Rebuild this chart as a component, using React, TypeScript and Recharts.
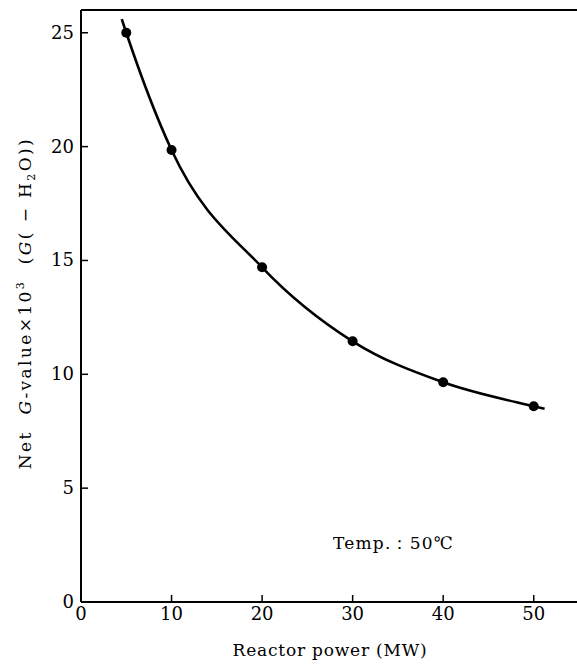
import { ComposedChart, Line, Scatter, XAxis, YAxis, Label, Customized, ReferenceLine } from "recharts"

const powerMW = [5, 10, 20, 30, 40, 50]
const gValue = [25.0, 19.85, 14.7, 11.45, 9.65, 8.6]

// hand-drawn fit curve: measured points plus the two ends as seen in the figure
const curveX = [4.5, 5, 10, 20, 30, 40, 50, 51.2]
const curveY = [25.6, 25.0, 19.85, 14.7, 11.45, 9.65, 8.6, 8.49]

const xTicks = [0, 10, 20, 30, 40, 50]
const yTicks = [0, 5, 10, 15, 20, 25]

const points = powerMW.map((x, i) => ({ x, y: gValue[i] }))
const curve = curveX.map((x, i) => ({ x, y: curveY[i] }))

const font = "'DejaVu Serif', 'Liberation Serif', serif"

function XTick(props: any) {
  const { x, y, payload } = props
  return (
    <g>
      <line x1={x} x2={x} y1={602} y2={595} stroke="#000" strokeWidth={1.5} />
      <text x={x} y={y} dy={10} textAnchor="middle" fontFamily={font} fontSize={18} fill="#000">
        {payload.value}
      </text>
    </g>
  )
}

function YTick(props: any) {
  const { y, payload } = props
  return (
    <g>
      <line x1={81} x2={88} y1={y} y2={y} stroke="#000" strokeWidth={1.5} />
      <text x={74} y={y} dy={6} textAnchor="end" fontFamily={font} fontSize={18} fill="#000">
        {payload.value}
      </text>
    </g>
  )
}

function YTitle() {
  const cx = 31
  const cy = 303
  return (
    <text x={cx} y={cy} transform={`rotate(-90 ${cx} ${cy})`} textAnchor="middle" fontFamily={font} fontSize={17} fill="#000" letterSpacing={2.4} xmlSpace="preserve">
      <tspan>{"Net  "}</tspan>
      <tspan fontStyle="italic">G</tspan>
      <tspan>-value×10</tspan>
      <tspan fontSize={11} dy={-7}>3</tspan>
      <tspan dy={7}>{"  ("}</tspan>
      <tspan fontStyle="italic">G</tspan>
      <tspan>{"( − H"}</tspan>
      <tspan fontSize={11} dy={4}>2</tspan>
      <tspan dy={-4}>O))</tspan>
    </text>
  )
}

function Note() {
  return (
    <text x={333} y={549} fontFamily={font} fontSize={17} fill="#000" letterSpacing={1.2}>
      Temp.：50℃
    </text>
  )
}

export default function App() {
  return (
    <div style={{ position: "absolute", left: 0, top: 0, width: 577, height: 667, overflow: "hidden", background: "#fff" }}>
      <ComposedChart width={579} height={667} margin={{ top: 10, right: 0, left: 1, bottom: 35 }}>
        <XAxis
          type="number"
          dataKey="x"
          domain={[0, 55]}
          ticks={xTicks}
          allowDataOverflow
          stroke="#000"
          strokeWidth={2}
          tickLine={false}
          tick={<XTick />}
          height={30}
        >
          <Label value="Reactor power (MW)" position="bottom" offset={12} style={{ fill: "#000", fontFamily: font, fontSize: 17, letterSpacing: 0.8 }} />
        </XAxis>
        <YAxis
          type="number"
          dataKey="y"
          domain={[0, 26]}
          ticks={yTicks}
          allowDataOverflow
          stroke="#000"
          strokeWidth={2}
          tickLine={false}
          tick={<YTick />}
          width={80}
        />
        <ReferenceLine y={26} stroke="#000" strokeWidth={2} ifOverflow="visible" />
        <Line data={curve} dataKey="y" type="monotone" stroke="#000" strokeWidth={2.6} dot={false} isAnimationActive={false} />
        <Scatter
          data={points}
          dataKey="y"
          fill="#000"
          isAnimationActive={false}
          shape={(p: any) => <circle cx={p.cx} cy={p.cy} r={5} fill="#000" />}
        />
        <Customized component={YTitle} />
        <Customized component={Note} />
      </ComposedChart>
    </div>
  )
}
